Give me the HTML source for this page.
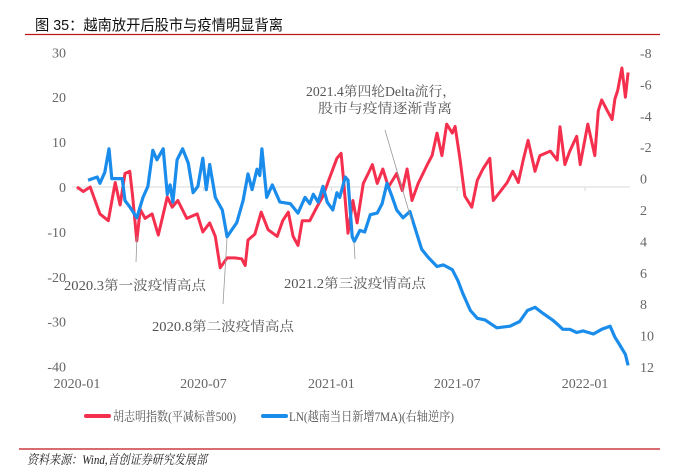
<!DOCTYPE html>
<html><head><meta charset="utf-8">
<style>
body{margin:0;background:#fff;width:683px;height:466px;overflow:hidden;font-family:"Liberation Serif","Noto Serif CJK SC",serif;}
svg{display:block}
</style></head>
<body>
<svg id="chart" width="683" height="466" viewBox="0 0 683 466" xmlns="http://www.w3.org/2000/svg">
<text x="35" y="30" font-family="'Liberation Sans','Noto Sans CJK SC',sans-serif" font-size="15" fill="#111" textLength="248" lengthAdjust="spacingAndGlyphs">图 35：越南放开后股市与疫情明显背离</text>
<line x1="25" y1="34.5" x2="660" y2="34.5" stroke="#c0141c" stroke-width="1.2"/>
<g id="axes"></g>
<g id="series"></g>
<g id="notes" font-size="13.5" fill="#555" font-family="'Liberation Serif','Noto Serif CJK SC',serif">
<line x1="136" y1="262" x2="137" y2="236" stroke="#999" stroke-width="0.8"/>
<text x="64" y="290" textLength="142" lengthAdjust="spacingAndGlyphs">2020.3第一波疫情高点</text>
<line x1="223" y1="304" x2="227" y2="238" stroke="#999" stroke-width="0.8"/>
<text x="152" y="331" textLength="142" lengthAdjust="spacingAndGlyphs">2020.8第二波疫情高点</text>
<line x1="355" y1="259" x2="354" y2="242" stroke="#999" stroke-width="0.8"/>
<text x="284" y="288" textLength="142" lengthAdjust="spacingAndGlyphs">2021.2第三波疫情高点</text>
<line x1="385" y1="130" x2="412" y2="222" stroke="#999" stroke-width="0.8"/>
<text x="306" y="96" textLength="150" lengthAdjust="spacingAndGlyphs">2021.4第四轮Delta流行，</text>
<text x="318" y="113" textLength="134" lengthAdjust="spacingAndGlyphs">股市与疫情逐渐背离</text>
</g>
<g font-size="13" fill="#555">
<line x1="86" y1="416" x2="109" y2="416" stroke="#f5304f" stroke-width="4" stroke-linecap="round"/>
<text x="113" y="421" textLength="123" lengthAdjust="spacingAndGlyphs">胡志明指数(平减标普500)</text>
<line x1="263" y1="416" x2="286" y2="416" stroke="#1a8ceb" stroke-width="4" stroke-linecap="round"/>
<text x="289" y="421" textLength="165" lengthAdjust="spacingAndGlyphs">LN(越南当日新增7MA)(右轴逆序)</text>
</g>
<line x1="19" y1="449" x2="660" y2="449" stroke="#c0141c" stroke-width="1.2"/>
<text x="27" y="464" font-size="13" font-style="italic" fill="#222" font-family="'Liberation Serif','Noto Serif CJK SC',serif" textLength="180" lengthAdjust="spacingAndGlyphs">资料来源：Wind,首创证券研究发展部</text>
</svg>
<script>
// days since 2020-01-01
const redDays=[0,9,19,33,45,55,62,69,76,80,86,91,98,108,117,130,137,145,158,173,181,191,199,206,216,227,237,242,246,256,265,275,288,296,304,311,318,324,335,345,354,364,374,380,383,390,397,403,412,419,425,432,440,448,460,468,475,482,491,504,511,518,525,532,540,544,551,558,568,576,584,594,599,609,619,627,635,642,649,659,666,681,691,695,702,709,719,724,735,745,750,755,763,770,774,778,784,789,793];
const redVals=[0,-1,0,-6,-7.5,1,-4,3,3.5,-2,-12,-5,-7,-6,-10.7,-2.2,-4.5,-3,-7,-6,-10,-8,-11,-18,-15.8,-15.8,-16,-17.5,-11.8,-10.5,-5.6,-9.5,-11,-7.5,-5.6,-11,-13,-7.5,-7.5,-4.5,-2,2.3,6.4,7.5,2.5,-10.3,-3,-8,0.8,3,5,0.8,4,0,3,-0.8,4,-3,0.8,5,7,12,7,14,12,13.5,6.4,-2,-4.5,1.5,4,6.4,-3,-1,1,3.5,1,6,10.4,3.5,7,8,6,13.4,5,8,11.3,5,14,7,17,19.4,17,15,19.6,21.5,26.5,20,25.5];
const blueDays=[16,29,33,40,46,50,65,69,76,86,95,102,109,115,124,130,134,138,144,152,160,167,174,181,186,191,199,209,216,230,239,246,252,259,263,266,273,281,292,307,318,328,335,340,347,354,360,368,374,378,386,390,396,399,407,414,422,432,439,446,453,460,469,479,486,496,505,518,527,540,548,555,566,576,587,604,623,637,648,659,671,684,692,699,709,719,728,743,755,767,774,781,789,793];
const blueVals=[0.1,-0.1,0.3,-0.4,-1.9,0,0,1.4,1.8,2.5,1.2,0.5,-1.8,-1.2,-1.9,1,0.4,1.5,-1.2,-1.9,-1,0.9,0.5,-1.3,0.7,-0.9,1.2,2,3.7,2.8,1.4,-0.3,0.7,-0.6,-0.2,-1.9,1.2,0.4,1.5,1.6,2.2,1.2,1.6,1,1.5,0.5,1.5,2,0.9,1.2,-0.1,0.1,3.7,4,3.3,3.4,2.3,2.2,1.6,0.3,1.1,2,2.5,2.1,3.1,4.5,5,5.6,5.5,5.8,6.5,7.3,8.4,8.9,9,9.5,9.4,9.1,8.4,8.2,8.6,9,9.3,9.6,9.6,9.8,9.7,9.9,9.6,9.4,10.1,10.6,11.2,11.9];
const leftTicks=[30,20,10,0,-10,-20,-30,-40];
const rightTicks=[-8,-6,-4,-2,0,2,4,6,8,10,12];
const xTickLabels=["2020-01","2020-07","2021-01","2021-07","2022-01"];
const xTickDays=[0,182,366,547,731];

const NS="http://www.w3.org/2000/svg";
const x=d=>77+d*0.695;
const yL=v=>187-(v*4.49);
const yR=v=>178.6+v*15.7;
function mk(tag,attrs,parent){const e=document.createElementNS(NS,tag);for(const k in attrs)e.setAttribute(k,attrs[k]);parent.appendChild(e);return e;}
const axes=document.getElementById('axes');
mk('line',{x1:72,y1:yL(0),x2:630,y2:yL(0),stroke:'#d9d9d9','stroke-width':1},axes);
leftTicks.forEach(v=>{const t=mk('text',{x:66,y:yL(v)+5,'text-anchor':'end','font-size':14,fill:'#666'},axes);t.textContent=v;

});
rightTicks.forEach(v=>{const t=mk('text',{x:640,y:yR(v)+5,'font-size':14,fill:'#666'},axes);t.textContent=v;

});
xTickLabels.forEach((s,i)=>{const t=mk('text',{x:x(xTickDays[i]),y:388,'text-anchor':'middle','font-size':14,fill:'#666'},axes);t.textContent=s;


const m=mk('line',{x1:x(xTickDays[i]),y1:yL(0),x2:x(xTickDays[i]),y2:yL(0)+4,stroke:'#d9d9d9'},axes);

});
const ser=document.getElementById('series');
const rp=mk('polyline',{points:redDays.map((d,i)=>x(d).toFixed(1)+','+yL(redVals[i]).toFixed(1)).join(' '),fill:'none',stroke:'#f5304f','stroke-width':3,'stroke-linejoin':'round'},ser);


const bp=mk('polyline',{points:blueDays.map((d,i)=>x(d).toFixed(1)+','+yR(blueVals[i]).toFixed(1)).join(' '),fill:'none',stroke:'#1a8ceb','stroke-width':3.2,'stroke-linejoin':'round'},ser);


</script>
</body></html>
